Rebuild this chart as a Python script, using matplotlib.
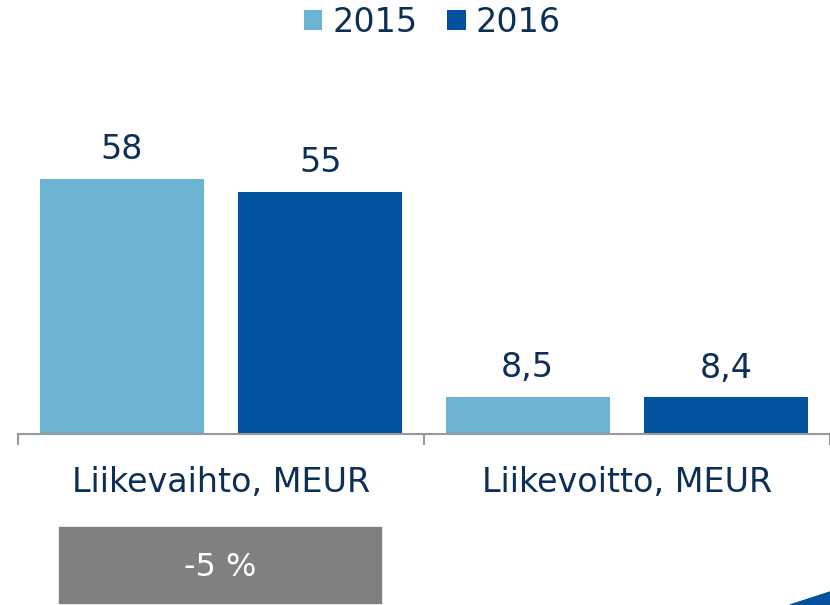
import numpy as np
import matplotlib
matplotlib.use("Agg")
import matplotlib.pyplot as plt
from matplotlib.patches import Rectangle, Polygon

categories = ["Liikevaihto, MEUR", "Liikevoitto, MEUR"]
years = ["2015", "2016"]
values_2015 = [58, 8.5]
values_2016 = [55, 8.4]
labels_2015 = ["58", "8,5"]
labels_2016 = ["55", "8,4"]
change_text = "-5 %"

c2015 = "#6ab4d2"
c2016 = "#00539c"
navy = "#0c2f56"

W, H = 830, 605
fig = plt.figure(figsize=(W / 100, H / 100), dpi=100)

# axes spans x 18..830 px, y 82..434 px
ax = fig.add_axes([18 / W, (H - 434) / H, (830 - 18) / W, (434 - 82) / H])
x = np.arange(len(categories))
off, bw = 0.245, 0.404
b1 = ax.bar(x - off, values_2015, bw, color=c2015, label=years[0])
b2 = ax.bar(x + off, values_2016, bw, color=c2016, label=years[1])
ax.set_xlim(-0.5, 1.5)
ax.set_ylim(0, 80)

for bars, labs in ((b1, labels_2015), (b2, labels_2016)):
    for rect, lab in zip(bars, labs):
        ax.annotate(lab, (rect.get_x() + rect.get_width() / 2, rect.get_height()),
                    xytext=(0, 9), textcoords="offset points",
                    ha="center", va="bottom", fontsize=24, color=navy)

for s in ("top", "right", "left"):
    ax.spines[s].set_visible(False)
ax.spines["bottom"].set_color("#999999")
ax.spines["bottom"].set_linewidth(1.5)
ax.set_yticks([])
ax.set_xticks([-0.5, 0.5, 1.5], minor=False)
ax.set_xticklabels([])
ax.tick_params(axis="x", length=8, width=1.5, color="#999999")
for xi, cat in zip(x, categories):
    ax.text(xi, -0.09, cat, transform=ax.get_xaxis_transform(),
            ha="center", va="top", fontsize=24, color=navy)

leg = fig.legend(handles=[b1, b2], loc="upper center", bbox_to_anchor=(0.521, 1.04),
                 ncol=2, frameon=False, fontsize=24, handlelength=0.55, handleheight=0.55,
                 handletextpad=0.3, columnspacing=0.9)
for t in leg.get_texts():
    t.set_color(navy)

# grey change box
fig.patches.append(Rectangle((59 / W, 2 / H), (381 - 59) / W, (78 - 2) / H,
                             transform=fig.transFigure, color="#808080"))
fig.text(220 / W, (H - 568) / H, change_text, ha="center", va="center",
         fontsize=23, color="white")

# blue corner wedge
fig.patches.append(Polygon([(790 / W, 0), (1, 13 / H), (1, 0)], closed=True,
                           transform=fig.transFigure, color=c2016))

fig.savefig("out.png", dpi=100)
